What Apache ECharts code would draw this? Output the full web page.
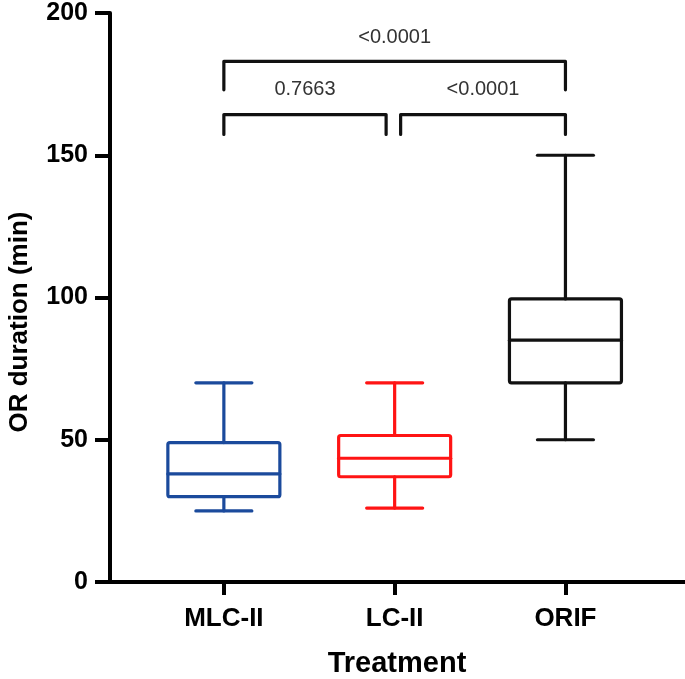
<!DOCTYPE html>
<html><head><meta charset="utf-8">
<script src="https://cdn.jsdelivr.net/npm/echarts@6/dist/echarts.min.js"></script>
<style>html,body{margin:0;padding:0;background:#fff}#c{width:685px;height:679px}</style>
</head><body><div id="c"></div>
<script>
const categories = ['MLC-II', 'LC-II', 'ORIF'];
const mins    = [25, 26, 50];
const q1s     = [30, 37, 70];
const medians = [38, 43.5, 85];
const q3s     = [49, 51.5, 99.5];
const maxs    = [70, 70, 150];
const yTicks  = [0, 50, 100, 150, 200];
// significance brackets (positions in category units, levels in minutes)
const bracketFrom  = [1, 1, 2.035];
const bracketTo    = [3, 1.95, 3];
const bracketLevel = [183, 164.3, 164.3];
const bracketLeg   = [173, 157.3, 157.3];
const pLabelLevel  = [191.4, 173, 173];
const pLabels      = ['<0.0001', '0.7663', '<0.0001'];

const colors = ['#1b4a9c', '#ff1414', '#111111'];
const FONT = '"Liberation Sans", Arial, Helvetica, sans-serif';

const boxData = categories.map((c, i) => [i + 1, mins[i], q1s[i], medians[i], q3s[i], maxs[i]]);
const bracketData = pLabels.map((p, i) => [bracketFrom[i], bracketTo[i], bracketLevel[i], bracketLeg[i], pLabelLevel[i], p]);

function renderBox(params, api) {
  const x = api.value(0);
  const lo = api.coord([x, api.value(1)]);
  const q1 = api.coord([x, api.value(2)]);
  const md = api.coord([x, api.value(3)]);
  const q3 = api.coord([x, api.value(4)]);
  const hi = api.coord([x, api.value(5)]);
  const hw = 56, cw = 28, cx = md[0];
  const color = colors[params.dataIndex];
  const st = { stroke: color, lineWidth: 3.2, fill: null, lineCap: 'round' };
  return {
    type: 'group',
    children: [
      { type: 'rect', shape: { x: cx - hw, y: q3[1], width: 2 * hw, height: q1[1] - q3[1], r: 2 }, style: { stroke: color, fill: 'none', lineWidth: 3.2 } },
      { type: 'line', shape: { x1: cx - hw, y1: md[1], x2: cx + hw, y2: md[1] }, style: st },
      { type: 'line', shape: { x1: cx, y1: q3[1], x2: cx, y2: hi[1] }, style: st },
      { type: 'line', shape: { x1: cx, y1: q1[1], x2: cx, y2: lo[1] }, style: st },
      { type: 'line', shape: { x1: cx - cw, y1: hi[1], x2: cx + cw, y2: hi[1] }, style: st },
      { type: 'line', shape: { x1: cx - cw, y1: lo[1], x2: cx + cw, y2: lo[1] }, style: st }
    ]
  };
}

function renderBracket(params, api) {
  const a = api.coord([api.value(0), api.value(3)]);
  const b = api.coord([api.value(0), api.value(2)]);
  const c = api.coord([api.value(1), api.value(2)]);
  const d = api.coord([api.value(1), api.value(3)]);
  const t = api.coord([(api.value(0) + api.value(1)) / 2, api.value(4)]);
  return {
    type: 'group',
    children: [
      { type: 'polyline', shape: { points: [a, b, c, d] }, style: { stroke: '#111', lineWidth: 3.2, fill: null, lineJoin: 'round', lineCap: 'round' } },
      { type: 'text', x: t[0], y: t[1], style: { text: api.value(5), font: '20px ' + FONT, fill: '#333', align: 'center', verticalAlign: 'middle' } }
    ]
  };
}

const chart = echarts.init(document.getElementById('c'), null, { renderer: 'canvas' });
chart.setOption({
  animation: false,
  backgroundColor: '#fff',
  grid: { left: 110, right: 0, top: 13, bottom: 97, containLabel: false },
  xAxis: {
    type: 'value', min: 1 / 3, max: 3.7,
    splitLine: { show: false },
    axisLine: { show: true, onZero: false, lineStyle: { color: '#000', width: 4 } },
    axisTick: { show: true, customValues: [1, 2, 3], length: 13, lineStyle: { color: '#000', width: 4 } },
    axisLabel: { show: true, customValues: [1, 2, 3], formatter: v => categories[Math.round(v) - 1], margin: 24,
      fontSize: 26, fontWeight: 'bold', fontFamily: FONT, color: '#000' }
  },
  yAxis: {
    type: 'value', min: 0, max: 200, interval: 50,
    splitLine: { show: false },
    axisLine: { show: true, lineStyle: { color: '#000', width: 4 } },
    axisTick: { show: true, length: 15, lineStyle: { color: '#000', width: 4 } },
    axisLabel: { margin: 22, fontSize: 25, fontWeight: 'bold', fontFamily: FONT, color: '#000',
      formatter: v => (yTicks.indexOf(v) >= 0 ? String(v) : '') }
  },
  graphic: [
    { type: 'text', x: 20, y: 322, rotation: Math.PI / 2,
      style: { text: 'OR duration (min)', font: 'bold 26px ' + FONT, fill: '#000', align: 'center', verticalAlign: 'middle' } },
    { type: 'text', x: 397, y: 664,
      style: { text: 'Treatment', font: 'bold 29px ' + FONT, fill: '#000', align: 'center', verticalAlign: 'middle' } }
  ],
  series: [
    { type: 'custom', name: 'box', data: boxData, renderItem: renderBox, encode: { x: 0, y: [1, 2, 3, 4, 5] }, clip: false, z: 3 },
    { type: 'custom', name: 'p', data: bracketData, renderItem: renderBracket, encode: { x: [0, 1], y: [2, 3, 4] }, clip: false, z: 3 }
  ]
});
</script></body></html>
